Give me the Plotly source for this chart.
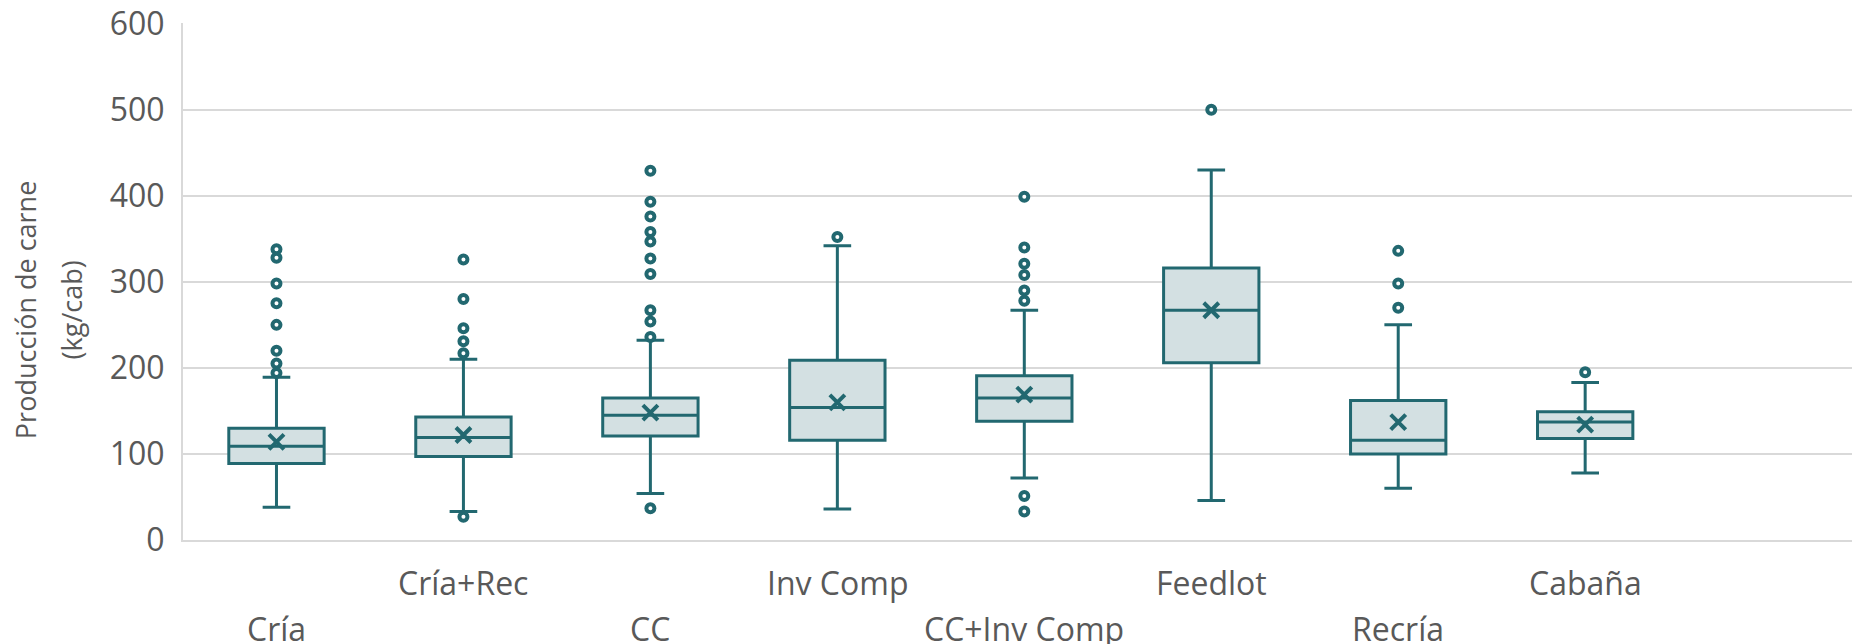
import plotly.graph_objects as go

# datos (kg/cab)
categorias = ['Cría', 'Cría+Rec', 'CC', 'Inv Comp', 'CC+Inv Comp', 'Feedlot', 'Recría', 'Cabaña']
q1 = [89, 97, 121, 116, 138, 206, 100, 118]
mediana = [109, 119, 145, 154, 165, 267, 116, 137]
q3 = [130, 143, 165, 209, 191, 316, 162, 149]
bigote_inf = [38, 33, 54, 36, 72, 46, 60, 78]
bigote_sup = [189, 210, 232, 342, 267, 430, 250, 183]
media = [114, 122, 148, 160, 169, 267, 137, 134]
atipicos = [
    [338, 328, 298, 275, 250, 220, 205, 194],
    [326, 280, 246, 231, 217, 27],
    [429, 393, 376, 358, 347, 327, 309, 267, 254, 236, 37],
    [352],
    [399, 340, 321, 308, 290, 278, 51, 33],
    [500],
    [336, 298, 270],
    [195],
]
titulo_y = ['Producción de carne', '(kg/cab)']

color_linea = '#226870'
color_relleno = '#D3E0E2'
color_texto = '#595959'
color_grilla = '#D9D9D9'
fuente = 'Open Sans'

fig = go.Figure()

fig.add_trace(go.Box(
    x=categorias, q1=q1, median=mediana, q3=q3,
    lowerfence=bigote_inf, upperfence=bigote_sup,
    boxpoints=False, width=0.51, whiskerwidth=0.29,
    line=dict(color=color_linea, width=3), fillcolor=color_relleno,
    showlegend=False, hoverinfo='skip'
))

x_at = [c for c, vals in zip(categorias, atipicos) for _ in vals]
y_at = [v for vals in atipicos for v in vals]
fig.add_trace(go.Scatter(
    x=x_at, y=y_at, mode='markers', showlegend=False,
    marker=dict(symbol='circle', size=8, color='white', line=dict(color=color_linea, width=4))
))

fig.add_trace(go.Scatter(
    x=categorias, y=media, mode='markers', showlegend=False,
    marker=dict(symbol='x-thin', size=15, line=dict(color=color_linea, width=4))
))

# etiquetas del eje x escalonadas
for i, cat in enumerate(categorias):
    fig.add_annotation(
        x=i, xref='x', y=-0.083 if i % 2 else -0.171, yref='paper',
        text=cat, showarrow=False, yanchor='middle',
        font=dict(family=fuente, size=32, color=color_texto)
    )

# título del eje y, en dos líneas
for x_pos, linea in zip([-0.0935, -0.0665], titulo_y):
    fig.add_annotation(
        x=x_pos, xref='paper', y=0.445, yref='paper',
        text=linea, textangle=-90, showarrow=False,
        xanchor='center', yanchor='middle',
        font=dict(family=fuente, size=27, color=color_texto)
    )

# la página deja 8 px de margen en el body
fig.update_layout(
    width=1852, height=636,
    margin=dict(l=175, r=0, t=15, b=104),
    plot_bgcolor='white', paper_bgcolor='white',
    font=dict(family=fuente, color=color_texto),
)
fig.update_xaxes(
    type='category', categoryorder='array', categoryarray=categorias,
    range=[-0.5, 8.47], showticklabels=False, showgrid=False,
    showline=True, linecolor=color_grilla, linewidth=2, automargin=False
)
fig.update_yaxes(
    range=[0, 600.8], tickvals=[0, 100, 200, 300, 400, 500, 600],
    showgrid=True, gridcolor=color_grilla, gridwidth=2,
    zeroline=False, showline=True, linecolor=color_grilla, linewidth=2,
    tickfont=dict(family=fuente, size=32, color=color_texto),
    ticklabelstandoff=10, ticklabeloverflow='allow', automargin=False
)

fig.write_html('out.html')
